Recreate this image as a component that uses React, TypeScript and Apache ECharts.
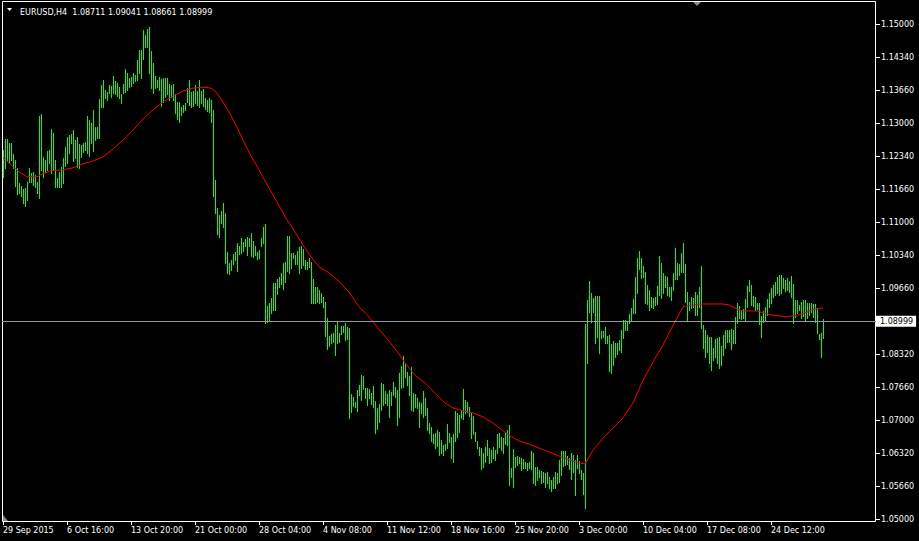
import React, { useEffect, useRef } from "react";
import * as echarts from "echarts";

const symbolTitle = "EURUSD,H4\u00a0 1.08711 1.09041 1.08661 1.08999";
const bidPrice = 1.08999;
const bidLabel = "1.08999";

const timeLabels = [
  "29 Sep 2015", "6 Oct 16:00", "13 Oct 20:00", "21 Oct 00:00", "28 Oct 04:00",
  "4 Nov 08:00", "11 Nov 12:00", "18 Nov 16:00", "25 Nov 20:00", "3 Dec 00:00",
  "10 Dec 04:00", "17 Dec 08:00", "24 Dec 12:00",
];
const barsPerLabel = 32;
const slotCount = 437;

const priceTickValues = [
  1.05, 1.056667, 1.063333, 1.07, 1.076667, 1.083333, 1.096667, 1.103333,
  1.11, 1.116667, 1.123333, 1.13, 1.136667, 1.143333, 1.15,
];
const priceTickLabels = [
  "1.05000", "1.05660", "1.06320", "1.07000", "1.07660", "1.08320", "1.09660", "1.10340",
  "1.11000", "1.11660", "1.12340", "1.13000", "1.13660", "1.14340", "1.15000",
];

const highs = [
  1.1246, 1.1268, 1.1268, 1.1260, 1.1260, 1.1238, 1.1226, 1.1210, 1.1179, 1.1173,
  1.1167, 1.1169, 1.1181, 1.1210, 1.1200, 1.1202, 1.1196, 1.1181, 1.1315, 1.1319,
  1.1232, 1.1226, 1.1244, 1.1246, 1.1288, 1.1280, 1.1226, 1.1189, 1.1202, 1.1212,
  1.1230, 1.1252, 1.1272, 1.1276, 1.1278, 1.1286, 1.1266, 1.1272, 1.1258, 1.1256,
  1.1260, 1.1262, 1.1315, 1.1307, 1.1300, 1.1327, 1.1292, 1.1292, 1.1349, 1.1377,
  1.1387, 1.1367, 1.1363, 1.1377, 1.1375, 1.1395, 1.1385, 1.1381, 1.1373, 1.1359,
  1.1379, 1.1410, 1.1402, 1.1391, 1.1393, 1.1402, 1.1398, 1.1428, 1.1448, 1.1448,
  1.1488, 1.1478, 1.1490, 1.1494, 1.1446, 1.1422, 1.1395, 1.1387, 1.1393, 1.1389,
  1.1391, 1.1391, 1.1391, 1.1379, 1.1377, 1.1379, 1.1359, 1.1343, 1.1343, 1.1333,
  1.1337, 1.1341, 1.1371, 1.1387, 1.1363, 1.1365, 1.1377, 1.1365, 1.1387, 1.1365,
  1.1369, 1.1351, 1.1347, 1.1351, 1.1347, 1.1327, 1.1185, 1.1129, 1.1115, 1.1123,
  1.1139, 1.1119, 1.1040, 1.1018, 1.1024, 1.1036, 1.1040, 1.1058, 1.1052, 1.1068,
  1.1060, 1.1066, 1.1070, 1.1068, 1.1078, 1.1062, 1.1052, 1.1040, 1.1044, 1.1068,
  1.1091, 1.1097, 1.0931, 1.0937, 1.0947, 1.0977, 1.0977, 1.0985, 1.0989, 1.0998,
  1.1018, 1.1020, 1.1072, 1.1072, 1.1038, 1.1038, 1.1034, 1.1042, 1.1050, 1.1052,
  1.1046, 1.1024, 1.1020, 1.1028, 1.1020, 1.0985, 1.0969, 1.0969, 1.0963, 1.0957,
  1.0949, 1.0939, 1.0907, 1.0870, 1.0874, 1.0876, 1.0892, 1.0901, 1.0876, 1.0890,
  1.0890, 1.0897, 1.0888, 1.0886, 1.0753, 1.0747, 1.0737, 1.0761, 1.0771, 1.0791,
  1.0789, 1.0765, 1.0765, 1.0763, 1.0755, 1.0769, 1.0739, 1.0725, 1.0733, 1.0775,
  1.0773, 1.0759, 1.0753, 1.0761, 1.0757, 1.0777, 1.0767, 1.0761, 1.0795, 1.0809,
  1.0830, 1.0816, 1.0797, 1.0789, 1.0807, 1.0755, 1.0753, 1.0745, 1.0737, 1.0735,
  1.0759, 1.0745, 1.0725, 1.0695, 1.0686, 1.0672, 1.0674, 1.0680, 1.0676, 1.0660,
  1.0650, 1.0652, 1.0693, 1.0674, 1.0666, 1.0672, 1.0719, 1.0715, 1.0711, 1.0721,
  1.0763, 1.0741, 1.0737, 1.0727, 1.0715, 1.0709, 1.0676, 1.0658, 1.0646, 1.0644,
  1.0634, 1.0646, 1.0660, 1.0644, 1.0640, 1.0646, 1.0640, 1.0672, 1.0674, 1.0666,
  1.0664, 1.0676, 1.0680, 1.0691, 1.0604, 1.0642, 1.0626, 1.0628, 1.0626, 1.0624,
  1.0622, 1.0616, 1.0614, 1.0616, 1.0638, 1.0634, 1.0606, 1.0606, 1.0600, 1.0598,
  1.0596, 1.0594, 1.0596, 1.0585, 1.0579, 1.0585, 1.0596, 1.0594, 1.0620, 1.0638,
  1.0638, 1.0638, 1.0628, 1.0624, 1.0634, 1.0630, 1.0620, 1.0630, 1.0618, 1.0600,
  1.0594, 1.0895, 1.0943, 1.0981, 1.0957, 1.0947, 1.0951, 1.0951, 1.0951, 1.0880,
  1.0880, 1.0888, 1.0870, 1.0872, 1.0854, 1.0860, 1.0856, 1.0856, 1.0862, 1.0882,
  1.0903, 1.0903, 1.0899, 1.0915, 1.0927, 1.0945, 1.0989, 1.1028, 1.1042, 1.1028,
  1.1012, 1.1000, 1.0973, 1.0963, 1.0949, 1.0947, 1.0949, 1.0971, 1.1032, 1.1018,
  1.0998, 1.0991, 1.0989, 1.0969, 1.0969, 1.0998, 1.1048, 1.1018, 1.1016, 1.1038,
  1.1058, 1.1016, 1.0959, 1.0939, 1.0949, 1.0947, 1.0959, 1.0953, 1.0969, 1.1012,
  1.0892, 1.0882, 1.0872, 1.0868, 1.0868, 1.0846, 1.0864, 1.0866, 1.0868, 1.0850,
  1.0872, 1.0882, 1.0882, 1.0882, 1.0884, 1.0882, 1.0909, 1.0937, 1.0931, 1.0923,
  1.0925, 1.0945, 1.0971, 1.0983, 1.0973, 1.0951, 1.0949, 1.0937, 1.0937, 1.0911,
  1.0921, 1.0929, 1.0945, 1.0957, 1.0967, 1.0973, 1.0979, 1.0989, 1.0993, 1.0993,
  1.0987, 1.0983, 1.0987, 1.0981, 1.0991, 1.0975, 1.0943, 1.0943, 1.0933, 1.0939,
  1.0943, 1.0943, 1.0937, 1.0937, 1.0937, 1.0935, 1.0935, 1.0927, 1.0874, 1.0876,
  1.09041,
];

const lows = [
  1.1192, 1.1210, 1.1226, 1.1220, 1.1226, 1.1210, 1.1173, 1.1157, 1.1159, 1.1153,
  1.1139, 1.1133, 1.1145, 1.1181, 1.1181, 1.1175, 1.1171, 1.1159, 1.1149, 1.1206,
  1.1192, 1.1202, 1.1206, 1.1220, 1.1200, 1.1206, 1.1171, 1.1171, 1.1171, 1.1171,
  1.1179, 1.1214, 1.1220, 1.1240, 1.1260, 1.1224, 1.1230, 1.1212, 1.1210, 1.1232,
  1.1242, 1.1246, 1.1240, 1.1234, 1.1260, 1.1244, 1.1266, 1.1270, 1.1270, 1.1333,
  1.1333, 1.1351, 1.1347, 1.1361, 1.1353, 1.1361, 1.1359, 1.1355, 1.1351, 1.1341,
  1.1361, 1.1363, 1.1367, 1.1373, 1.1375, 1.1381, 1.1385, 1.1387, 1.1402, 1.1391,
  1.1430, 1.1454, 1.1454, 1.1402, 1.1371, 1.1361, 1.1371, 1.1373, 1.1367, 1.1335,
  1.1343, 1.1353, 1.1359, 1.1347, 1.1353, 1.1347, 1.1321, 1.1309, 1.1303, 1.1317,
  1.1323, 1.1327, 1.1343, 1.1337, 1.1333, 1.1335, 1.1341, 1.1337, 1.1333, 1.1341,
  1.1335, 1.1329, 1.1325, 1.1323, 1.1303, 1.1153, 1.1119, 1.1076, 1.1070, 1.1099,
  1.1091, 1.1018, 1.0998, 1.0996, 1.1004, 1.1016, 1.1024, 1.1002, 1.1036, 1.1038,
  1.1042, 1.1052, 1.1034, 1.1052, 1.1032, 1.1030, 1.1034, 1.1026, 1.1028, 1.1052,
  1.1058, 1.0897, 1.0899, 1.0903, 1.0917, 1.0923, 1.0923, 1.0955, 1.0969, 1.0975,
  1.0965, 1.0979, 1.1002, 1.0998, 1.1008, 1.1028, 1.1016, 1.1016, 1.0998, 1.1008,
  1.1014, 1.1006, 1.1006, 1.1010, 1.0937, 1.0937, 1.0937, 1.0939, 1.0937, 1.0939,
  1.0929, 1.0870, 1.0844, 1.0850, 1.0856, 1.0858, 1.0832, 1.0856, 1.0858, 1.0874,
  1.0878, 1.0862, 1.0864, 1.0705, 1.0717, 1.0729, 1.0727, 1.0719, 1.0751, 1.0741,
  1.0763, 1.0745, 1.0731, 1.0745, 1.0733, 1.0727, 1.0674, 1.0682, 1.0697, 1.0721,
  1.0731, 1.0735, 1.0731, 1.0707, 1.0731, 1.0751, 1.0747, 1.0691, 1.0707, 1.0765,
  1.0767, 1.0787, 1.0771, 1.0751, 1.0721, 1.0719, 1.0727, 1.0725, 1.0686, 1.0715,
  1.0707, 1.0711, 1.0680, 1.0674, 1.0658, 1.0654, 1.0644, 1.0648, 1.0630, 1.0634,
  1.0630, 1.0640, 1.0644, 1.0656, 1.0624, 1.0616, 1.0658, 1.0666, 1.0676, 1.0705,
  1.0703, 1.0715, 1.0717, 1.0709, 1.0664, 1.0672, 1.0658, 1.0644, 1.0630, 1.0602,
  1.0606, 1.0616, 1.0630, 1.0614, 1.0616, 1.0624, 1.0620, 1.0634, 1.0646, 1.0640,
  1.0634, 1.0652, 1.0650, 1.0569, 1.0585, 1.0565, 1.0606, 1.0610, 1.0614, 1.0600,
  1.0604, 1.0604, 1.0600, 1.0604, 1.0602, 1.0573, 1.0569, 1.0579, 1.0585, 1.0573,
  1.0575, 1.0565, 1.0573, 1.0563, 1.0557, 1.0563, 1.0563, 1.0573, 1.0575, 1.0589,
  1.0608, 1.0610, 1.0612, 1.0602, 1.0581, 1.0596, 1.0549, 1.0604, 1.0594, 1.0581,
  1.0551, 1.0523, 1.0816, 1.0919, 1.0899, 1.0919, 1.0856, 1.0868, 1.0836, 1.0866,
  1.0868, 1.0856, 1.0856, 1.0800, 1.0795, 1.0812, 1.0828, 1.0834, 1.0842, 1.0838,
  1.0866, 1.0882, 1.0882, 1.0897, 1.0901, 1.0917, 1.0917, 1.0957, 1.1006, 1.0987,
  1.0989, 1.0937, 1.0935, 1.0923, 1.0929, 1.0927, 1.0933, 1.0935, 1.0953, 1.0947,
  1.0957, 1.0969, 1.0953, 1.0951, 1.0943, 1.0963, 1.0985, 1.0985, 1.0993, 1.1000,
  1.1000, 1.0939, 1.0903, 1.0923, 1.0927, 1.0929, 1.0913, 1.0913, 1.0929, 1.0886,
  1.0846, 1.0828, 1.0838, 1.0816, 1.0802, 1.0822, 1.0828, 1.0816, 1.0806, 1.0812,
  1.0832, 1.0846, 1.0858, 1.0858, 1.0844, 1.0856, 1.0856, 1.0897, 1.0907, 1.0905,
  1.0907, 1.0901, 1.0929, 1.0961, 1.0933, 1.0931, 1.0923, 1.0925, 1.0895, 1.0868,
  1.0899, 1.0903, 1.0913, 1.0929, 1.0937, 1.0949, 1.0953, 1.0957, 1.0953, 1.0957,
  1.0967, 1.0961, 1.0963, 1.0959, 1.0949, 1.0897, 1.0909, 1.0917, 1.0923, 1.0907,
  1.0911, 1.0903, 1.0907, 1.0913, 1.0919, 1.0909, 1.0899, 1.0876, 1.0864, 1.0828,
  1.08661,
];

const maBars = [
  0, 4, 8, 12, 17, 20, 24, 30, 35, 40, 45, 50, 55, 60, 65, 70, 75, 80, 85, 90,
  95, 100, 104, 107, 110, 113, 117, 120, 124, 128, 133, 137, 142, 147, 150, 154, 158, 163, 168, 173,
  178, 183, 188, 193, 198, 201, 206, 211, 216, 221, 225, 230, 235, 240, 244, 248, 253, 258, 263, 268,
  273, 278, 283, 288, 291, 295, 300, 305, 310, 315, 320, 325, 330, 335, 340, 345, 350, 355, 360, 363,
  367, 370, 377, 380, 384, 388, 391, 395, 398, 402, 406, 410,
];
const maValues = [
  1.1230, 1.1216, 1.1202, 1.1192, 1.1192, 1.1198, 1.1204, 1.1206, 1.1210, 1.1218,
  1.1224, 1.1232, 1.1248, 1.1266, 1.1286, 1.1309, 1.1327, 1.1343, 1.1355, 1.1365,
  1.1371, 1.1373, 1.1371, 1.1361, 1.1343, 1.1323, 1.1292, 1.1266, 1.1234, 1.1206,
  1.1169, 1.1141, 1.1105, 1.1074, 1.1054, 1.1030, 1.1010, 1.0998, 1.0981, 1.0959,
  1.0929, 1.0909, 1.0884, 1.0860, 1.0834, 1.0816, 1.0791, 1.0775, 1.0755, 1.0735,
  1.0725, 1.0719, 1.0715, 1.0707, 1.0697, 1.0685, 1.0670, 1.0658, 1.0652, 1.0644,
  1.0636, 1.0628, 1.0620, 1.0614, 1.0612, 1.0640, 1.0664, 1.0684, 1.0705, 1.0735,
  1.0781, 1.0818, 1.0852, 1.0892, 1.0929, 1.0933, 1.0935, 1.0935, 1.0935, 1.0933,
  1.0925, 1.0921, 1.0921, 1.0917, 1.0913, 1.0911, 1.0909, 1.0911, 1.0913, 1.0919,
  1.0925, 1.0927,
];

const FONT = "DejaVu Sans";

export default function App() {
  const ref = useRef<HTMLDivElement>(null);

  useEffect(() => {
    if (!ref.current) return;
    document.body.style.margin = "0";
    document.body.style.background = "#000";
    const chart = echarts.init(ref.current, null, { renderer: "svg" });

    const categories = Array.from({ length: slotCount }, (_, i) => String(i));
    const barData = highs.map((h, i) => [i, h, lows[i]]);
    const maData = maBars.map((b, k) => [b, maValues[k]]);
    const showTick = (index: number) =>
      index % barsPerLabel === 0 && index / barsPerLabel < timeLabels.length;

    const tickLabel = (v: number) => {
      let best = 0;
      for (let k = 1; k < priceTickValues.length; k++) {
        if (Math.abs(priceTickValues[k] - v) < Math.abs(priceTickValues[best] - v)) best = k;
      }
      return priceTickLabels[best];
    };

    chart.setOption({
      animation: false,
      backgroundColor: "#000000",
      title: {
        text: symbolTitle,
        left: 15,
        top: 3,
        textStyle: { color: "#ffffff", fontFamily: FONT, fontSize: 8, fontWeight: "normal" },
      },
      grid: { left: 2, top: 1, width: 874, height: 521, containLabel: false },
      xAxis: {
        type: "category",
        data: categories,
        boundaryGap: true,
        axisLine: { show: false },
        axisTick: {
          show: true,
          alignWithLabel: true,
          interval: (index: number) => showTick(index),
          length: 3,
          lineStyle: { color: "#ffffff" },
        },
        axisLabel: {
          interval: (index: number) => showTick(index),
          formatter: (value: string) => timeLabels[Number(value) / barsPerLabel] ?? "",
          align: "left",
          color: "#ffffff",
          fontFamily: FONT,
          fontSize: 8,
          margin: 4,
        },
        splitLine: { show: false },
      },
      yAxis: {
        type: "value",
        position: "right",
        min: 1.04946,
        max: 1.1547,
        splitLine: { show: false },
        axisLine: { show: false },
        axisTick: {
          show: true,
          customValues: priceTickValues,
          length: 4,
          lineStyle: { color: "#ffffff" },
        },
        axisLabel: {
          customValues: priceTickValues,
          formatter: (v: number) => tickLabel(v),
          color: "#ffffff",
          fontFamily: FONT,
          fontSize: 8,
          margin: 5,
        },
      },
      series: [
        {
          type: "custom",
          name: "EURUSD",
          data: barData,
          encode: { x: 0, y: [1, 2] },
          clip: true,
          renderItem: (params: any, api: any) => {
            const top = api.coord([api.value(0), api.value(1)]);
            const bottom = api.coord([api.value(0), api.value(2)]);
            return {
              type: "rect",
              shape: {
                x: top[0],
                y: Math.round(top[1]),
                width: 1,
                height: Math.max(1, Math.round(bottom[1] - top[1]) + 1),
              },
              style: { fill: "#00ff00" },
            };
          },
        },
        {
          type: "line",
          name: "MA",
          data: maData,
          showSymbol: false,
          symbol: "none",
          lineStyle: { color: "#ff0000", width: 1 },
          z: 3,
          markLine: {
            silent: true,
            symbol: "none",
            data: [{ yAxis: bidPrice }],
            lineStyle: { color: "#8e9aa8", type: "solid", width: 1 },
            label: {
              position: "end",
              formatter: bidLabel,
              backgroundColor: "#ffffff",
              color: "#000000",
              fontFamily: FONT,
              fontSize: 8,
              padding: [2, 3, 1, 4],
              distance: 0,
            },
          },
        },
      ],
      graphic: [
        {
          type: "rect",
          shape: { x: 2.5, y: 1.5, width: 873, height: 520 },
          style: { fill: "none", stroke: "#ffffff", lineWidth: 1 },
          silent: true,
        },
        {
          type: "polygon",
          shape: { points: [[7, 8], [12, 8], [9.5, 11]] },
          style: { fill: "#ffffff" },
          silent: true,
        },
        {
          type: "polygon",
          shape: { points: [[693, 2], [701, 2], [697, 6]] },
          style: { fill: "#7f8a96" },
          silent: true,
        },
        {
          type: "polygon",
          shape: { points: [[3, 515], [3, 521], [8, 521]] },
          style: { fill: "#7f8a96" },
          silent: true,
        },
      ],
    });

    return () => chart.dispose();
  }, []);

  return (
    <div
      ref={ref}
      style={{ position: "fixed", left: 0, top: 0, width: 919, height: 541, background: "#000" }}
    />
  );
}
